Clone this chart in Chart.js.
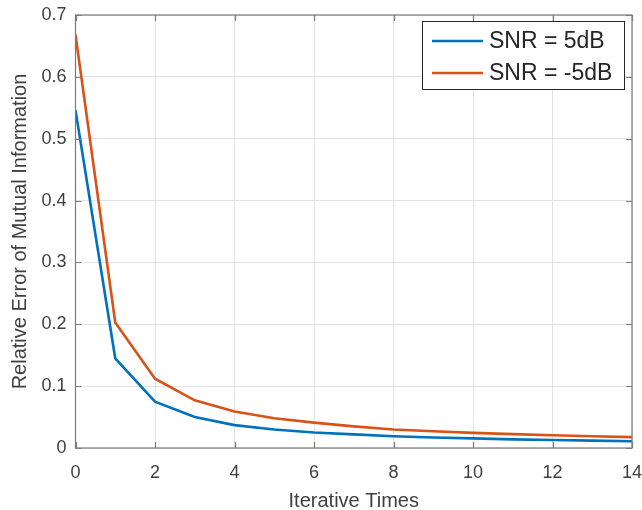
<!DOCTYPE html>
<html>
<head>
<meta charset="utf-8">
<script src="https://cdn.jsdelivr.net/npm/chart.js@4/dist/chart.umd.min.js"></script>
<style>
  html, body { margin: 0; padding: 0; background: #fff; }
  #wrap { width: 642px; height: 510px; }
</style>
</head>
<body>
<div id="wrap"><canvas id="chart"></canvas></div>
<script>
// data
const iterations = [0, 1, 2, 3, 4, 5, 6, 7, 8, 9, 10, 11, 12, 13, 14];
const snr5 = [0.546, 0.145, 0.075, 0.050, 0.037, 0.030, 0.025, 0.022, 0.019, 0.017, 0.0155, 0.014, 0.013, 0.012, 0.011];
const snrMinus5 = [0.668, 0.203, 0.112, 0.077, 0.059, 0.048, 0.041, 0.035, 0.030, 0.027, 0.0245, 0.0225, 0.0205, 0.019, 0.0175];
const seriesLabels = ["SNR = 5dB", "SNR = -5dB"];
const xTicks = [0, 2, 4, 6, 8, 10, 12, 14];
const yTicks = [0, 0.1, 0.2, 0.3, 0.4, 0.5, 0.6, 0.7];

const FONT = "'Liberation Sans', Arial, sans-serif";
const TEXT = "#404040";

// box + inward ticks, MATLAB style
const boxTicks = {
  id: "boxTicks",
  afterDatasetsDraw(chart) {
    const { ctx, chartArea: a, scales: { x, y } } = chart;
    ctx.save();
    ctx.strokeStyle = "#7a7a7a";
    ctx.lineWidth = 1.2;
    ctx.beginPath();
    xTicks.forEach(v => {
      const px = Math.round(x.getPixelForValue(v)) + 0.5;
      ctx.moveTo(px, a.bottom); ctx.lineTo(px, a.bottom - 6);
      ctx.moveTo(px, a.top); ctx.lineTo(px, a.top + 6);
    });
    yTicks.forEach(v => {
      const py = Math.round(y.getPixelForValue(v)) + 0.5;
      ctx.moveTo(a.left, py); ctx.lineTo(a.left + 6, py);
      ctx.moveTo(a.right, py); ctx.lineTo(a.right - 6, py);
    });
    ctx.stroke();
    ctx.strokeRect(a.left, a.top, a.right - a.left, a.bottom - a.top);
    ctx.restore();
  }
};

// legend box in the top right corner
const innerLegend = {
  id: "innerLegend",
  afterDraw(chart) {
    const { ctx, chartArea: a } = chart;
    const w = 202, h = 68;
    const lx = Math.round(a.right - 210), ly = Math.round(a.top + 6);
    ctx.save();
    ctx.fillStyle = "#fff";
    ctx.fillRect(lx, ly, w, h);
    ctx.strokeStyle = "#262626";
    ctx.lineWidth = 1;
    ctx.strokeRect(lx + 0.5, ly + 0.5, w, h);
    ctx.font = "23px " + FONT;
    ctx.textBaseline = "middle";
    chart.data.datasets.forEach((ds, i) => {
      const cy = ly + 20 + i * 32;
      ctx.strokeStyle = ds.borderColor;
      ctx.lineWidth = 2.6;
      ctx.beginPath();
      ctx.moveTo(lx + 10, cy); ctx.lineTo(lx + 61, cy);
      ctx.stroke();
      ctx.fillStyle = "#262626";
      ctx.fillText(ds.label, lx + 67, cy + 1);
    });
    ctx.restore();
  }
};

new Chart(document.getElementById("chart"), {
  type: "line",
  data: {
    datasets: [
      {
        label: seriesLabels[0],
        data: iterations.map((it, i) => ({ x: it, y: snr5[i] })),
        borderColor: "#0072BD",
        borderWidth: 2.6,
        pointRadius: 0,
        tension: 0
      },
      {
        label: seriesLabels[1],
        data: iterations.map((it, i) => ({ x: it, y: snrMinus5[i] })),
        borderColor: "#D95319",
        borderWidth: 2.6,
        pointRadius: 0,
        tension: 0
      }
    ]
  },
  options: {
    responsive: true,
    maintainAspectRatio: false,
    animation: false,
    layout: { padding: { left: 0, right: 10, top: 15, bottom: 0 } },
    plugins: {
      legend: { display: false },
      tooltip: { enabled: false }
    },
    scales: {
      x: {
        type: "linear",
        min: 0,
        max: 14,
        afterBuildTicks: s => { s.ticks = xTicks.map(v => ({ value: v })); },
        afterFit: s => { s.height = 62; s.paddingLeft = 0; s.paddingRight = 0; },
        grid: { color: "#e3e3e3", drawTicks: false },
        border: { display: false },
        ticks: { color: TEXT, font: { family: FONT, size: 18 }, padding: 14, maxRotation: 0 },
        title: {
          display: true,
          text: "Iterative Times",
          color: TEXT,
          font: { family: FONT, size: 20 },
          padding: { top: 4, bottom: -3 }
        }
      },
      y: {
        min: 0,
        max: 0.7,
        afterBuildTicks: s => { s.ticks = yTicks.map(v => ({ value: v })); },
        afterFit: s => { s.width = 75.5; s.paddingTop = 0; s.paddingBottom = 0; },
        grid: { color: "#e3e3e3", drawTicks: false },
        border: { display: false },
        ticks: {
          color: TEXT,
          font: { family: FONT, size: 18 },
          padding: 9,
          callback: v => (v === 0 ? "0" : v.toFixed(1))
        },
        title: {
          display: true,
          text: "Relative Error of Mutual Information",
          color: TEXT,
          font: { family: FONT, size: 20 },
          padding: { top: 8, bottom: 4 }
        }
      }
    }
  },
  plugins: [boxTicks, innerLegend]
});
</script>
</body>
</html>
